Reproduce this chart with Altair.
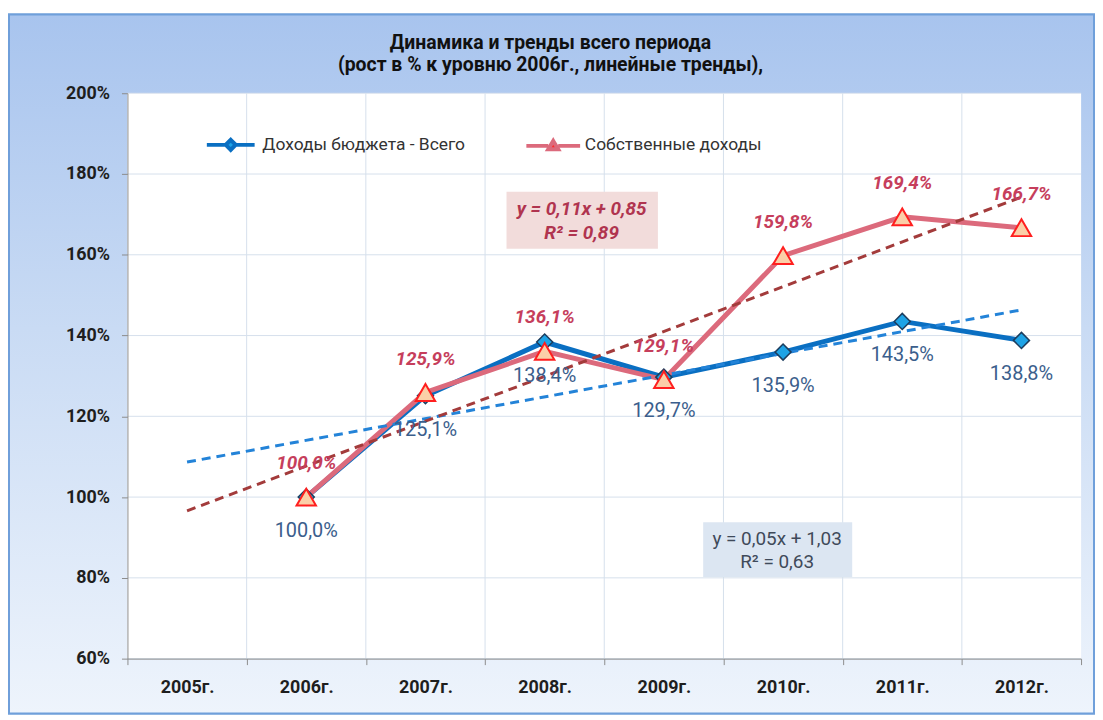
import json
import altair as alt
import pandas as pd

# ---------------- data ----------------
years = ["2005г.", "2006г.", "2007г.", "2008г.", "2009г.", "2010г.", "2011г.", "2012г."]
series_names = ["Доходы бюджета - Всего", "Собственные доходы"]
total_income = [None, 100.0, 125.1, 138.4, 129.7, 135.9, 143.5, 138.8]
own_income = [None, 100.0, 125.9, 136.1, 129.1, 159.8, 169.4, 166.7]

eq_texts = ["y = 0,05x + 1,03\nR² = 0,63", "y = 0,11x + 0,85\nR² = 0,89"]
eq_x = [5.95, 4.31]
eq_y = [89.5, 171.3]
box_x = [5.33, 3.68]
box_x2 = [6.58, 4.95]
box_y = [93.8, 175.6]
box_y2 = [80.2, 161.5]

y_ticks = [60, 80, 100, 120, 140, 160, 180, 200]

title_lines = ["Динамика и тренды всего периода",
               "(рост  в % к уровню 2006г., линейные тренды),"]

# ---------------- tables ----------------
rows = []
for i, yr in enumerate(years):
    for name, vals in zip(series_names, [total_income, own_income]):
        if vals[i] is not None:
            rows.append({"xi": i + 1, "year": yr, "series": name, "v": vals[i]})
df = pd.DataFrame(rows)

ann = pd.DataFrame({"series": series_names, "text": eq_texts, "x": eq_x, "y": eq_y,
                    "bx": box_x, "bx2": box_x2, "by": box_y, "by2": box_y2})

n = len(years)
tick_vals = [k / 2 for k in range(1, 2 * n + 2)]
grid_x = pd.DataFrame({"gx": [k + 0.5 for k in range(1, n)]})
grid_y = pd.DataFrame({"gy": y_ticks})

FONT = "Roboto"
BLUE = "#0a6fc2"
RED = "#dc6a7c"
BLUE_TREND = "#2383d8"
RED_TREND = "#a33b3b"
GRID = "#d6e0ec"

label_expr = ("datum.value % 1 == 0 ? " + json.dumps(years, ensure_ascii=False)
              + "[datum.value - 1] : ''")

x_scale = alt.Scale(domain=[0.5, n + 0.5], nice=False, zero=False)
y_scale = alt.Scale(domain=[60, 200], nice=False, zero=False)

x_enc = alt.X("xi:Q", scale=x_scale,
              axis=alt.Axis(values=tick_vals, labelExpr=label_expr, title=None, grid=False,
                            tickOpacity={"condition": {"test": "datum.value % 1 != 0", "value": 1}, "value": 0},
                            labelPadding=14, tickSize=6, labelFlush=False, zindex=1))
y_enc = alt.Y("v:Q", scale=y_scale,
              axis=alt.Axis(values=y_ticks, labelExpr="datum.value + '%'", grid=False,
                            title=None, tickSize=6, labelPadding=12, zindex=1))

base = alt.Chart(df).encode(x=x_enc, y=y_enc)


def sel(name):
    return alt.datum.series == name


# chart frame with gradient and white plot area
frame = alt.Chart(df).transform_filter("datum.xi == 2").mark_rect(
    fill=alt.Gradient(gradient="linear", x1=0, x2=0, y1=0, y2=1,
                      stops=[alt.GradientStop(color="#a8c4ee", offset=0),
                             alt.GradientStop(color="#c9dbf4", offset=0.45),
                             alt.GradientStop(color="#eef4fc", offset=1)]),
    stroke="#6f9fda", strokeWidth=2,
).encode(x=alt.value(-119), x2=alt.value(971), y=alt.value(-79), y2=alt.value(623))

plot_bg = alt.Chart(df).transform_filter("datum.xi == 2").mark_rect(fill="white").encode(
    x=alt.X(datum=0.5, scale=x_scale), x2=alt.X2(datum=n + 0.5),
    y=alt.Y(datum=60, scale=y_scale), y2=alt.Y2(datum=200))

gx = alt.Chart(grid_x).mark_rule(color=GRID, strokeWidth=1).encode(x=alt.X("gx:Q", scale=x_scale))
gy = alt.Chart(grid_y).mark_rule(color=GRID, strokeWidth=1).encode(y=alt.Y("gy:Q", scale=y_scale))

# equation boxes
boxes = alt.Chart(ann).mark_rect().encode(
    x="bx:Q", x2="bx2:Q", y="by:Q", y2="by2:Q",
    color=alt.Color("series:N", scale=alt.Scale(domain=series_names, range=["#dce6f2", "#f2dcdb"]), legend=None),
)

blue_line = base.transform_filter(sel(series_names[0])).mark_line(color=BLUE, strokeWidth=5)
red_line = base.transform_filter(sel(series_names[1])).mark_line(color=RED, strokeWidth=5)


def trend(name, color):
    return alt.Chart(df).transform_filter(sel(name)).transform_regression(
        "xi", "v", method="linear", extent=[1, n]
    ).mark_line(color=color, strokeWidth=3, strokeDash=[9, 6]).encode(x=x_enc, y=y_enc)


blue_trend = trend(series_names[0], BLUE_TREND)
red_trend = trend(series_names[1], RED_TREND)

blue_pts = base.transform_filter(sel(series_names[0])).mark_point(
    shape="diamond", size=260, filled=True, fill="#1ea3e6", stroke="#1c3d5e", strokeWidth=1.5, opacity=1)
red_pts = base.transform_filter(sel(series_names[1])).mark_point(
    shape="triangle-up", size=380, filled=True, fill="#fbcfa8", stroke="#ff1f1f", strokeWidth=2, opacity=1)

label_calc = "replace(format(datum.v, '.1f'), '.', ',') + '%'"
blue_lbl = base.transform_filter(sel(series_names[0])).transform_calculate(lbl=label_calc).mark_text(
    dy=34, font=FONT, fontSize=20, color="#3b5e8c").encode(text="lbl:N")
red_lbl = base.transform_filter(sel(series_names[1])).transform_calculate(lbl=label_calc).mark_text(
    dy=-34, font=FONT, fontSize=19, fontWeight="bold", fontStyle="italic", color="#c63e5c").encode(text="lbl:N")

eq_blue = alt.Chart(ann).transform_filter(sel(series_names[0])).mark_text(
    font=FONT, fontSize=19, color="#3f4a5a", lineBreak="\n", lineHeight=23).encode(
    x=alt.X("x:Q"), y=alt.Y("y:Q"), text="text:N")
eq_red = alt.Chart(ann).transform_filter(sel(series_names[1])).mark_text(
    font=FONT, fontSize=19, fontWeight="bold", fontStyle="italic", color="#b0344f",
    lineBreak="\n", lineHeight=24).encode(
    x=alt.X("x:Q"), y=alt.Y("y:Q"), text="text:N")

# legend (drawn from explicit scale domains, no marks)
path_blue = "M-4.8,0H-1M1,0H4.8M0,-1L1,0L0,1L-1,0Z"
path_red = "M-5.4,0.1H-1M1,0.1H5.4M0,-0.9L1,0.8L-1,0.8Z"
leg = alt.Legend(title=None, orient="none", legendX=95, legendY=43, direction="horizontal",
                 symbolSize=100, symbolStrokeWidth=4, symbolOpacity=1,
                 labelFont=FONT, labelFontSize=17.5, labelColor="#333333",
                 labelOffset=23, columnPadding=52, labelLimit=0)
legend_layer = alt.Chart(df).transform_filter("false").mark_point(filled=False, opacity=1).encode(
    x=x_enc, y=y_enc,
    shape=alt.Shape("series:N", scale=alt.Scale(domain=series_names, range=[path_blue, path_red]), legend=leg),
    fill=alt.Fill("series:N", scale=alt.Scale(domain=series_names, range=["#1ea3e6", "#ff2a2a"]), legend=leg),
    stroke=alt.Stroke("series:N", scale=alt.Scale(domain=series_names, range=[BLUE, RED]), legend=leg),
)

chart = alt.layer(
    frame, plot_bg, gx, gy, boxes, blue_line, red_line, blue_trend, red_trend, blue_pts, red_pts,
    blue_lbl, red_lbl, eq_blue, eq_red, legend_layer
).resolve_scale(color="independent").properties(
    width=958, height=568,
    padding={"left": 0, "top": 4, "right": 0, "bottom": 0},
    title=alt.Title(title_lines, font=FONT, fontSize=19.5, fontWeight="bold", color="#111111",
                    anchor="middle", dx=-54, offset=-62, lineHeight=22),
    background="white",
).configure_view(stroke=None).configure_axis(
    labelFont=FONT, labelFontSize=18, labelFontWeight="bold", labelColor="#1e1e1e",
    domainColor="#8c8c8c", tickColor="#8c8c8c",
)

chart.save("out.html", embed_options={"renderer": "svg", "actions": False})
